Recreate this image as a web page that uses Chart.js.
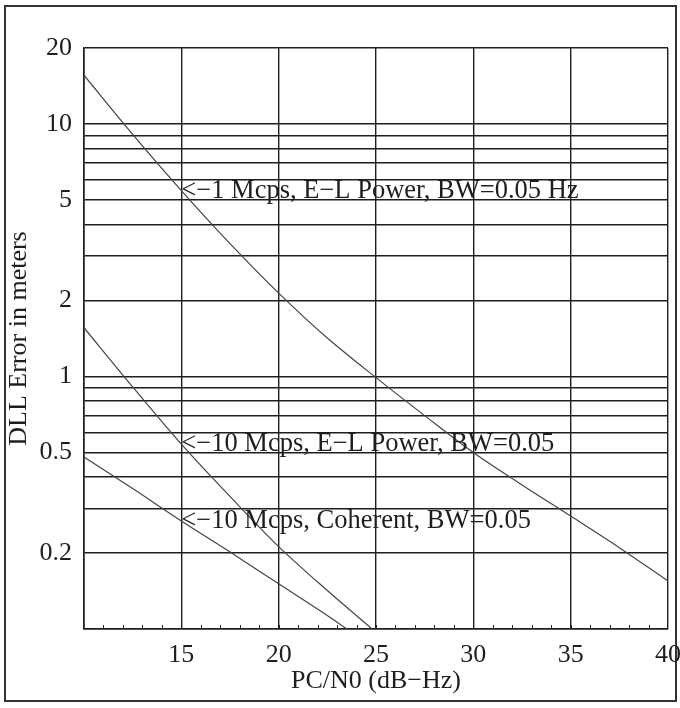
<!DOCTYPE html>
<html>
<head>
<meta charset="utf-8">
<script src="https://cdn.jsdelivr.net/npm/chart.js@4"></script>
<style>
  body { margin: 0; background: #fff; }
</style>
</head>
<body>
<canvas id="dllChart" width="680" height="708"></canvas>
<script>
// PC/N0 (dB-Hz) sample points
const cn0Wide = [10, 12.5, 15, 17.5, 20, 22.5, 25, 27.5, 30, 32.5, 35, 37.5, 40];
const err1McpsPower = [15.6, 9.1, 5.45, 3.36, 2.14, 1.42, 0.99, 0.7, 0.5, 0.372, 0.28, 0.21, 0.155];

const cn0Power10 = [10, 12.5, 15, 17.5, 20, 22.5, 24.8];
const err10McpsPower = [1.56, 0.91, 0.54, 0.335, 0.212, 0.142, 0.1];

const cn0Coherent10 = [10, 12.5, 15, 17.5, 20, 22.5, 23.5];
const err10McpsCoherent = [0.48, 0.36, 0.268, 0.202, 0.151, 0.113, 0.1];

const curveLabels = [
    '<\u22121 Mcps, E\u2212L Power, BW=0.05 Hz',
    '<\u221210 Mcps, E\u2212L Power, BW=0.05',
    '<\u221210 Mcps, Coherent, BW=0.05'
];
const labelAtCn0 = 15;

const xTicks = [10, 15, 20, 25, 30, 35, 40];
const yGridValues = [0.1, 0.2, 0.3, 0.4, 0.5, 0.6, 0.7, 0.8, 0.9, 1, 2, 3, 4, 5, 6, 7, 8, 9, 10, 20];
const yTickLabels = [0.2, 0.5, 1, 2, 5, 10, 20];

const FONT = "'Liberation Serif', 'Times New Roman', serif";
const INK = '#1e1e1e';

function points(xs, ys) {
    return xs.map((x, i) => ({ x: x, y: ys[i] }));
}

// outer frame drawn around the whole figure
const framePlugin = {
    id: 'frame',
    beforeDraw(chart) {
        const c = chart.ctx;
        c.save();
        c.fillStyle = '#fff';
        c.fillRect(0, 0, chart.width, chart.height);
        c.strokeStyle = '#333';
        c.lineWidth = 2;
        c.strokeRect(5, 6, 671, 695);
        c.restore();
    }
};

// small inward tick marks every 1 dB on the bottom axis, plus curve labels
const extrasPlugin = {
    id: 'extras',
    afterDatasetsDraw(chart) {
        const c = chart.ctx;
        const xs = chart.scales.x;
        const ys = chart.scales.y;
        const bottom = chart.chartArea.bottom;
        c.save();
        c.strokeStyle = INK;
        c.lineWidth = 1;
        for (let v = xs.min + 1; v < xs.max; v++) {
            const px = Math.round(xs.getPixelForValue(v)) + 0.5;
            c.beginPath();
            c.moveTo(px, bottom);
            c.lineTo(px, bottom - 4);
            c.stroke();
        }
        c.fillStyle = INK;
        c.font = '26.5px ' + FONT;
        c.textAlign = 'left';
        c.textBaseline = 'middle';
        const series = [
            [cn0Wide, err1McpsPower],
            [cn0Power10, err10McpsPower],
            [cn0Coherent10, err10McpsCoherent]
        ];
        series.forEach((s, i) => {
            const idx = s[0].indexOf(labelAtCn0);
            const px = xs.getPixelForValue(labelAtCn0);
            const py = ys.getPixelForValue(s[1][idx]);
            c.fillText(curveLabels[i], px, py);
        });
        c.restore();
    }
};

const lineStyle = {
    showLine: true,
    pointRadius: 0,
    borderColor: '#444',
    borderWidth: 1.2,
    cubicInterpolationMode: 'monotone',
    fill: false
};

new Chart(document.getElementById('dllChart'), {
    type: 'scatter',
    data: {
        datasets: [
            Object.assign({ label: curveLabels[0], data: points(cn0Wide, err1McpsPower) }, lineStyle),
            Object.assign({ label: curveLabels[1], data: points(cn0Power10, err10McpsPower) }, lineStyle),
            Object.assign({ label: curveLabels[2], data: points(cn0Coherent10, err10McpsCoherent) }, lineStyle)
        ]
    },
    options: {
        responsive: false,
        animation: false,
        layout: { padding: { top: 48, right: 12, left: 4, bottom: 8 } },
        plugins: {
            legend: { display: false },
            tooltip: { enabled: false }
        },
        scales: {
            x: {
                type: 'linear',
                min: 10,
                max: 40,
                afterBuildTicks(scale) {
                    scale.ticks = xTicks.map(v => ({ value: v }));
                },
                afterFit(scale) {
                    scale.height = 71;
                    scale.paddingLeft = 0;
                    scale.paddingRight = 0;
                },
                grid: { color: INK, lineWidth: 1.4, drawTicks: false },
                border: { color: INK, width: 1.6 },
                ticks: {
                    padding: 11,
                    color: INK,
                    font: { family: FONT, size: 26 },
                    maxRotation: 0,
                    callback: v => (v === 10 ? '' : String(v))
                },
                title: {
                    display: true,
                    text: 'PC/N0 (dB\u2212Hz)',
                    color: INK,
                    font: { family: FONT, size: 26 },
                    padding: { top: 0, bottom: 3 }
                }
            },
            y: {
                type: 'logarithmic',
                min: 0.1,
                max: 20,
                afterBuildTicks(scale) {
                    scale.ticks = yGridValues.map(v => ({ value: v }));
                },
                afterFit(scale) {
                    scale.width = 80;
                    scale.paddingTop = 0;
                    scale.paddingBottom = 0;
                },
                grid: { color: INK, lineWidth: 1.4, drawTicks: false },
                border: { color: INK, width: 1.6 },
                ticks: {
                    padding: 12,
                    color: INK,
                    font: { family: FONT, size: 26 },
                    autoSkip: false,
                    callback: v => (yTickLabels.includes(v) ? String(v) : '')
                },
                title: {
                    display: true,
                    text: 'DLL Error in meters',
                    color: INK,
                    font: { family: FONT, size: 26 },
                    padding: { top: 0, bottom: 0 }
                }
            }
        }
    },
    plugins: [framePlugin, extrasPlugin]
});
</script>
</body>
</html>
